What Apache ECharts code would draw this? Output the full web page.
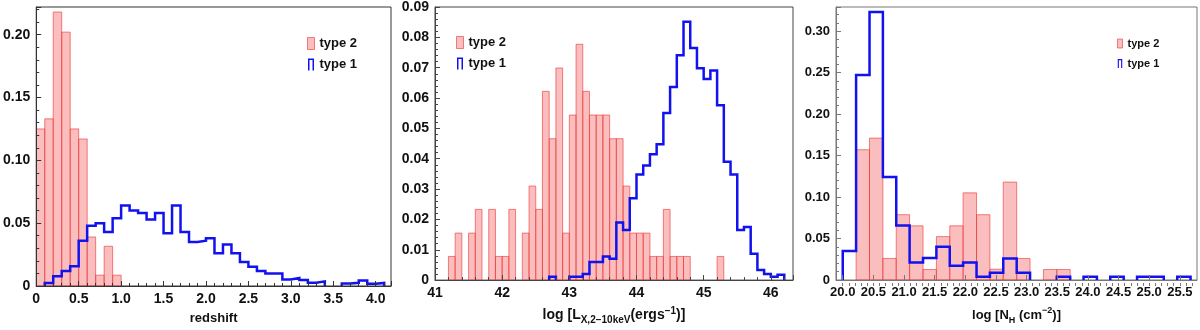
<!DOCTYPE html>
<html>
<head>
<meta charset="utf-8">
<script src="https://cdn.jsdelivr.net/npm/echarts@6/dist/echarts.min.js"></script>
<style>
  html, body { margin: 0; background: #fff; }
  #chart { width: 1200px; height: 330px; }
</style>
</head>
<body>
<div id="chart"></div>
<script>
// ---- data ----
// panel 1: redshift, bin edges (0.1 wide)
const zEdges = [0, 0.1, 0.2, 0.3, 0.4, 0.5, 0.6, 0.7, 0.8, 0.9, 1.0, 1.1, 1.2, 1.3, 1.4, 1.5, 1.6, 1.7, 1.8, 1.9, 2.0,
  2.1, 2.2, 2.3, 2.4, 2.5, 2.6, 2.7, 2.8, 2.9, 3.0, 3.1, 3.2, 3.3, 3.4, 3.5, 3.6, 3.7, 3.8, 3.9, 4.0, 4.1];
const zType2 = [0.125, 0.133, 0.218, 0.202, 0.125, 0.117, 0.039, 0.0086, 0.0316, 0.0086,
  0, 0, 0, 0, 0, 0, 0, 0, 0, 0, 0, 0, 0, 0, 0, 0, 0, 0, 0, 0, 0, 0, 0, 0, 0, 0, 0, 0, 0, 0, 0];
const zType1 = [0, 0.0024, 0.0078, 0.012, 0.0157, 0.036, 0.048, 0.050, 0.043, 0.054,
  0.064, 0.060, 0.058, 0.053, 0.058, 0.042, 0.064, 0.043, 0.035, 0.036,
  0.038, 0.026, 0.033, 0.026, 0.019, 0.0154, 0.012, 0.0099, 0.0099, 0.0052,
  0.0063, 0.0047, 0.0026, 0.0037, 0, 0, 0.002, 0.0026, 0.0044, 0.0018, 0.0024];

// panel 2: log Lx, bin edges (0.1 wide)
const lxEdges = [41.2, 41.3, 41.4, 41.5, 41.6, 41.7, 41.8, 41.9, 42.0, 42.1, 42.2, 42.3, 42.4, 42.5, 42.6, 42.7, 42.8,
  42.9, 43.0, 43.1, 43.2, 43.3, 43.4, 43.5, 43.6, 43.7, 43.8, 43.9, 44.0, 44.1, 44.2, 44.3, 44.4, 44.5, 44.6, 44.7,
  44.8, 44.9, 45.0, 45.1, 45.2, 45.3, 45.4, 45.5, 45.6, 45.7, 45.8, 45.9, 46.0, 46.1, 46.2];
const lxType2 = [0.0078, 0.0155, 0, 0.0155, 0.0233, 0, 0.0233, 0.0078, 0.0078, 0.0233,
  0, 0.0155, 0.031, 0.0233, 0.0622, 0.0466, 0.0699, 0.0155, 0.0544, 0.0777,
  0.0622, 0.0544, 0.0544, 0.0544, 0.0466, 0.0466, 0.031, 0.0155, 0.0155, 0.0155,
  0.0078, 0.0078, 0.0233, 0.0078, 0.0078, 0.0078, 0, 0, 0, 0,
  0.0078, 0, 0, 0, 0, 0, 0, 0, 0, 0];
const lxType1 = [0, 0, 0, 0, 0, 0, 0, 0, 0, 0, 0, 0, 0, 0, 0,
  0.0011, 0, 0, 0.0011, 0.0011, 0.002, 0.006, 0.006, 0.0078, 0.007,
  0.019, 0.0165, 0.027, 0.0348, 0.0378, 0.0415, 0.0448, 0.0551, 0.0636, 0.0741,
  0.0851, 0.0765, 0.0698, 0.0663, 0.0691, 0.0576, 0.039, 0.0348, 0.0165, 0.0175,
  0.0087, 0.0033, 0.002, 0.0011, 0.0018];

// panel 3: log NH
const nhEdges = [20.000, 20.218, 20.437, 20.655, 20.873, 21.091, 21.310, 21.528, 21.746, 21.964, 22.183, 22.401,
  22.619, 22.838, 23.056, 23.274, 23.492, 23.711, 23.929, 24.147, 24.365, 24.584, 24.802, 25.020, 25.238,
  25.457, 25.675];
const nhType2 = [0, 0.157, 0.171, 0.026, 0.0787, 0.0653, 0.0126, 0.0523, 0.0653, 0.105, 0.0787, 0.013, 0.118,
  0.026, 0, 0.0126, 0.0126, 0, 0, 0, 0, 0, 0, 0, 0, 0];
const nhType1 = [0.035, 0.247, 0.323, 0.124, 0.0657, 0.0212, 0.0264, 0.040, 0.0173, 0.0212, 0.004, 0.0087,
  0.026, 0.0087, 0, 0, 0.004, 0, 0.004, 0, 0.004, 0, 0.004, 0.004, 0, 0.004];
const nhTicks = [20.0, 20.5, 21.0, 21.5, 22.0, 22.5, 23.0, 23.5, 24.0, 24.5, 25.0, 25.5];

// ---- styling ----
const FONT = "'Liberation Sans', Arial, sans-serif";
const RED_FILL = 'rgba(244,110,110,0.45)';
const RED_EDGE = 'rgba(238,50,50,0.6)';
const BLUE = '#1212ee';
const TYPE1_ICON = 'path://M0,24V0H12V24H9V3H3V24Z';

// bars for the filled histogram: [left, right, value]
function barData(edges, vals) {
  const out = [];
  vals.forEach((v, i) => { if (v > 0) out.push([edges[i], edges[i + 1], v]); });
  return out;
}

// outline for the step histogram, broken where bins are empty
function stepData(edges, vals) {
  const pts = [];
  let open = false;
  vals.forEach((v, i) => {
    if (v > 0) {
      if (!open) { pts.push([edges[i], 0]); open = true; }
      pts.push([edges[i], v], [edges[i + 1], v]);
    } else if (open) {
      pts.push([edges[i], 0], ['-', '-']);
      open = false;
    }
  });
  if (open) pts.push([edges[vals.length], 0]);
  return pts;
}

function renderBar(params, api) {
  const p0 = api.coord([api.value(0), api.value(2)]);
  const p1 = api.coord([api.value(1), 0]);
  return {
    type: 'rect',
    shape: { x: p0[0], y: p0[1], width: p1[0] - p0[0], height: p1[1] - p0[1] },
    style: { fill: RED_FILL, stroke: RED_EDGE, lineWidth: 1 }
  };
}

function richName(size) {
  return {
    n: { fontFamily: FONT, fontSize: size, fontWeight: 'bold', color: '#111', lineHeight: 20, verticalAlign: 'middle' },
    sub: { fontFamily: FONT, fontSize: size - 4, fontWeight: 'bold', color: '#111', lineHeight: 10, verticalAlign: 'bottom' },
    sup: { fontFamily: FONT, fontSize: size - 4, fontWeight: 'bold', color: '#111', lineHeight: 10, padding: [1, 0, 0, 0], verticalAlign: 'top' }
  };
}

const panels = [
  {
    grid: { left: 34, top: 7, width: 357, height: 283 },
    edges: zEdges, t2: zType2, t1: zType1,
    x: { min: 0, max: 4.18, interval: 0.5, fmt: v => (v === 0 ? '0' : v.toFixed(1)) },
    y: { max: 0.222, interval: 0.05, fmt: v => (v === 0 ? '0' : v.toFixed(2)), showMax: false },
    name: 'redshift', nameGap: 26, nameStyle: { fontSize: 13 },
    axisColor: '#333', fontSize: 14,
    legend: { left: 307, top: 37, itemWidth: 7, itemHeight: 12, fontSize: 13, itemGap: 8 }
  },
  {
    grid: { left: 435, top: 7, width: 358, height: 276.5 },
    edges: lxEdges, t2: lxType2, t1: lxType1,
    x: { min: 41, max: 46.33, interval: 1, fmt: v => String(Math.round(v)) },
    y: { max: 0.09, interval: 0.01, fmt: v => (v === 0 ? '0' : v.toFixed(2)), showMax: true },
    name: '{n|log [L}{sub|X,2\u221210keV}{n|(ergs}{sup|\u22121}{n|)]}', nameGap: 24, nameStyle: { rich: richName(14) },
    axisColor: '#444', fontSize: 14,
    legend: { left: 456, top: 36, itemWidth: 7, itemHeight: 12, fontSize: 13, itemGap: 8 }
  },
  {
    grid: { left: 836, top: 7, width: 361, height: 279 },
    edges: nhEdges, t2: nhType2, t1: nhType1,
    x: { min: 19.89, max: 25.78, ticks: nhTicks, fmt: v => v.toFixed(1) },
    y: { max: 0.329, interval: 0.05, fmt: v => (v === 0 ? '0' : v.toFixed(2)), showMax: false },
    name: '{n|log [N}{sub|H}{n| (cm}{sup|\u22122}{n|)]}', nameGap: 25, nameStyle: { rich: richName(13) },
    axisColor: '#777', fontSize: 13,
    legend: { left: 1117, top: 38, itemWidth: 5, itemHeight: 9, fontSize: 11, itemGap: 9 }
  }
];

const option = {
  animation: false,
  backgroundColor: '#fff',
  textStyle: { fontFamily: FONT },
  grid: [], xAxis: [], yAxis: [], series: [], legend: []
};

panels.forEach((p, k) => {
  option.grid.push(Object.assign({ show: true, borderColor: p.axisColor, borderWidth: 1, backgroundColor: 'transparent' }, p.grid));
  const labelStyle = { fontFamily: FONT, fontWeight: 'bold', fontSize: p.fontSize, color: '#111' };
  const xAxis = {
    type: 'value', gridIndex: k, min: p.x.min, max: p.x.max, z: 10,
    splitLine: { show: false },
    axisLine: { show: true, onZero: false, lineStyle: { color: p.axisColor, width: 1 } },
    axisTick: { show: true, inside: true, length: 5, lineStyle: { color: p.axisColor } },
    axisLabel: Object.assign({ margin: 6, showMaxLabel: false, formatter: p.x.fmt }, labelStyle),
    name: p.name, nameLocation: 'middle', nameGap: p.nameGap,
    nameTextStyle: Object.assign({ fontFamily: FONT, fontWeight: 'bold', fontSize: 14, color: '#111' }, p.nameStyle)
  };
  if (p.x.ticks) {
    xAxis.axisLabel.customValues = p.x.ticks;
    xAxis.axisLabel.showMinLabel = true;
    xAxis.axisLabel.showMaxLabel = true;
    xAxis.axisLabel.hideOverlap = false;
    xAxis.axisTick.customValues = p.x.ticks;
  } else {
    xAxis.interval = p.x.interval;
    xAxis.minorTick = { show: true, splitNumber: 5, length: 3, lineStyle: { color: p.axisColor } };
  }
  option.xAxis.push(xAxis);
  option.yAxis.push({
    type: 'value', gridIndex: k, min: 0, max: p.y.max, interval: p.y.interval, z: 10,
    splitLine: { show: false },
    axisLine: { show: true, lineStyle: { color: p.axisColor, width: 1 } },
    axisTick: { show: true, inside: true, length: 5, lineStyle: { color: p.axisColor } },
    minorTick: { show: true, splitNumber: 5, length: 3, lineStyle: { color: p.axisColor } },
    axisLabel: Object.assign({ margin: 6, showMaxLabel: p.y.showMax, formatter: p.y.fmt }, labelStyle)
  });
  option.series.push({
    name: 'type 2', type: 'custom', xAxisIndex: k, yAxisIndex: k, clip: true,
    renderItem: renderBar, encode: { x: [0, 1], y: 2 },
    itemStyle: { color: RED_FILL, borderColor: RED_EDGE },
    data: barData(p.edges, p.t2), z: 2
  });
  option.series.push({
    name: 'type 1', type: 'line', xAxisIndex: k, yAxisIndex: k, clip: true,
    showSymbol: false, symbol: 'none', color: BLUE, connectNulls: false,
    lineStyle: { color: BLUE, width: 2.5, join: 'miter' },
    data: stepData(p.edges, p.t1), z: 3
  });
  option.legend.push({
    orient: 'vertical', left: p.legend.left, top: p.legend.top, padding: 0,
    itemWidth: p.legend.itemWidth, itemHeight: p.legend.itemHeight, itemGap: p.legend.itemGap,
    selectedMode: false,
    textStyle: { fontFamily: FONT, fontWeight: 'bold', fontSize: p.legend.fontSize, color: '#111' },
    data: [
      { name: 'type 2', icon: 'rect', itemStyle: { color: RED_FILL, borderColor: RED_EDGE, borderWidth: 1 } },
      { name: 'type 1', icon: TYPE1_ICON, itemStyle: { color: BLUE, borderWidth: 0 } }
    ]
  });
});

// extra hidden grid for the minor ticks on the N_H axis (its range does not start on a tick)
const nhMinor = [];
for (let t = 200; t <= 257; t++) nhMinor.push(t / 10);
option.grid.push({ left: 836, top: 7, width: 361, height: 279, show: false });
option.xAxis.push({
  type: 'value', gridIndex: 3, min: 19.89, max: 25.78, z: 10,
  splitLine: { show: false }, axisLine: { show: false }, axisLabel: { show: false },
  axisTick: { show: true, inside: true, length: 3, customValues: nhMinor, lineStyle: { color: '#777' } }
});
option.yAxis.push({ type: 'value', gridIndex: 3, show: false, min: 0, max: 1 });

const chart = echarts.init(document.getElementById('chart'));
chart.setOption(option);
window.addEventListener('resize', () => chart.resize());
</script>
</body>
</html>
